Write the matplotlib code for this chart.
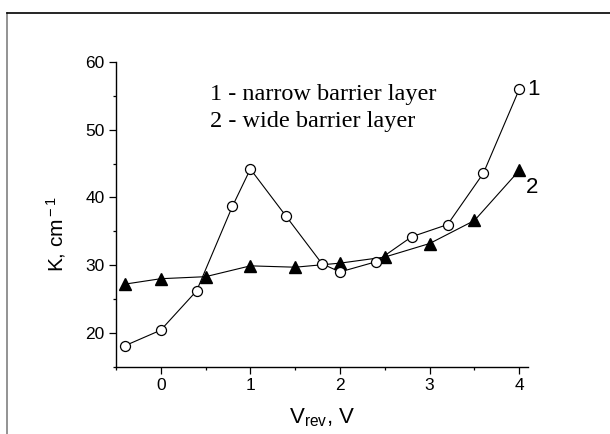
import matplotlib
matplotlib.use('Agg')
import matplotlib.pyplot as plt
from matplotlib.lines import Line2D
from matplotlib.ticker import MultipleLocator

# curve 1 - narrow barrier layer (open circles)
v1 = [-0.4, 0.0, 0.4, 0.8, 1.0, 1.4, 1.8, 2.0, 2.4, 2.8, 3.2, 3.6, 4.0]
k1 = [18.1, 20.4, 26.2, 38.7, 44.2, 37.2, 30.2, 29.0, 30.5, 34.2, 36.0, 43.6, 56.0]

# curve 2 - wide barrier layer (filled triangles)
v2 = [-0.4, 0.0, 0.5, 1.0, 1.5, 2.0, 2.5, 3.0, 3.5, 4.0]
k2 = [27.2, 28.0, 28.3, 29.9, 29.7, 30.3, 31.2, 33.2, 36.6, 44.0]

legend_lines = ['1 - narrow barrier layer', '2 - wide barrier layer']

plt.rcParams['font.family'] = ['Liberation Sans', 'DejaVu Sans']
plt.rcParams['mathtext.fontset'] = 'custom'
plt.rcParams['mathtext.rm'] = 'Liberation Sans'
plt.rcParams['mathtext.it'] = 'Liberation Sans'

fig = plt.figure(figsize=(6.1, 4.34), dpi=100)
ax = fig.add_axes([0.190, 0.155, 0.676, 0.702])

ax.plot(v1, k1, '-o', color='black', lw=0.8, mfc='white', mec='black',
        mew=0.9, ms=7.2, zorder=3)
ax.plot(v2, k2, '-^', color='black', lw=0.8, mfc='black', mec='black',
        ms=8, zorder=2)

ax.set_xlim(-0.5, 4.1)
ax.set_ylim(15, 60)
ax.xaxis.set_major_locator(MultipleLocator(1))
ax.xaxis.set_minor_locator(MultipleLocator(0.5))
ax.yaxis.set_major_locator(MultipleLocator(10))
ax.yaxis.set_minor_locator(MultipleLocator(5))
ax.set_yticks([20, 30, 40, 50, 60])

for s in ['top', 'right']:
    ax.spines[s].set_visible(False)
for s in ['left', 'bottom']:
    ax.spines[s].set_linewidth(1.0)
ax.tick_params(which='major', direction='out', length=5, width=0.9,
               labelsize=12.5, pad=3)
ax.tick_params(which='minor', direction='out', length=2.5, width=0.9)

ax.set_xlabel('V$_{\\rm rev}$, V', fontsize=16, labelpad=10)
ax.set_ylabel('K, cm$^{\\rm -1}$', fontsize=15)
ax.yaxis.set_label_coords(-0.115, 0.435)

ax.text(v1[-1] + 0.09, k1[-1], '1', fontsize=16, va='center', ha='left')
ax.text(v2[-1] + 0.07, k2[-1] - 2.5, '2', fontsize=16, va='center', ha='left')

for i, t in enumerate(legend_lines):
    ax.text(0.228, 0.875 - i * 0.087, t, transform=ax.transAxes,
            fontsize=17.5, family=['Liberation Serif', 'DejaVu Serif'],
            va='baseline', ha='left')

# page frame around the picture
fig.add_artist(Line2D([7 / 610, 7 / 610], [0, 1 - 13 / 434],
                      transform=fig.transFigure, color='#808080', lw=1.2))
fig.add_artist(Line2D([7 / 610, 1], [1 - 13 / 434, 1 - 13 / 434],
                      transform=fig.transFigure, color='black', lw=1.2))

fig.savefig('out.png', dpi=100)
